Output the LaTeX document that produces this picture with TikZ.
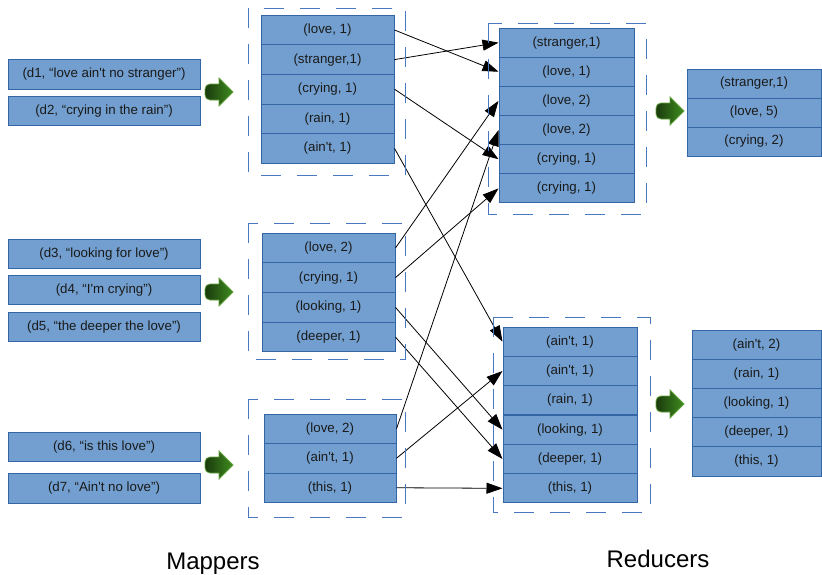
\documentclass[tikz,border=0pt]{standalone}
\usepackage{fontspec}
\setmainfont{Liberation Sans}[Ligatures=TeXOff]
\usetikzlibrary{arrows.meta}
\definecolor{boxfill}{HTML}{729FCF}
\definecolor{boxline}{HTML}{3465A4}
\definecolor{dashline}{HTML}{4A78C0}
\definecolor{gdark}{HTML}{1A3A0C}
\definecolor{glight}{HTML}{3E8C20}
\definecolor{gedge}{HTML}{62A23C}
\definecolor{txt}{HTML}{1A1A1A}
\tikzset{
  cell/.style={draw=boxline, fill=boxfill, line width=1pt, inner sep=0pt,
    text=txt, font=\fontsize{13.3}{15}\selectfont},
  incell/.style={cell, minimum width=192pt, minimum height=29.5pt},
  mcellA/.style={cell, minimum width=133pt, minimum height=29.6pt},
  mcellB/.style={cell, minimum width=133pt, minimum height=29.75pt},
  mcellC/.style={cell, minimum width=132pt, minimum height=29.5pt},
  rcellA/.style={cell, minimum width=135pt, minimum height=29.17pt},
  rcellB/.style={cell, minimum width=134pt, minimum height=29.33pt},
  ocellA/.style={cell, minimum width=134pt, minimum height=29pt},
  ocellB/.style={cell, minimum width=129pt, minimum height=29.2pt},
  groupbox/.style={draw=dashline, line width=0.9pt, dash pattern=on 20pt off 16pt},
  link/.style={draw=black, line width=0.8pt, -{Triangle[length=16pt,width=11pt]}},
  caption/.style={inner sep=0pt, text=black, text depth=0pt, font=\fontsize{24}{28}\selectfont, anchor=base},
  garrow/.pic={
    \shade[left color=gdark, right color=glight, draw=gedge, line width=0.8pt]
      (0,0) [rounded corners=5pt] -- (0,8) [sharp corners] -- (14,8) -- (14,14) -- (28,0)
      -- (14,-14) -- (14,-8) [rounded corners=5pt] -- (0,-8) [sharp corners] -- cycle;
  }
}
\begin{document}
\begin{tikzpicture}[x=1pt, y=-1pt]
\useasboundingbox (0,0) rectangle (822,574);

% inputs
\node[incell] (d1) at (104,74.5) {(d1, “love ain't no stranger”)};
\node[incell] (d2) at (104,111) {(d2, “crying in the rain”)};
\node[incell] (d3) at (104,254) {(d3, “looking for love”)};
\node[incell] (d4) at (104,290) {(d4, “I'm crying”)};
\node[incell] (d5) at (104,327) {(d5, “the deeper the love”)};
\node[incell] (d6) at (104,447) {(d6, “is this love”)};
\node[incell] (d7) at (104,488.5) {(d7, “Ain't no love”)};

% green arrows
\pic at (205,92) {garrow};
\pic at (205,292) {garrow};
\pic at (205,465) {garrow};
\pic at (656,111) {garrow};
\pic at (656,404) {garrow};

% mapper 1
\node[mcellA] (m1a) at (327.5,30) {(love, 1)};
\node[mcellA] (m1b) at (327.5,59.6) {(stranger,1)};
\node[mcellA] (m1c) at (327.5,89.2) {(crying, 1)};
\node[mcellA] (m1d) at (327.5,118.8) {(rain, 1)};
\node[mcellA] (m1e) at (327.5,148.4) {(ain't, 1)};
% mapper 2
\node[mcellB] (m2a) at (328.5,247.9) {(love, 2)};
\node[mcellB] (m2b) at (328.5,277.6) {(crying, 1)};
\node[mcellB] (m2c) at (328.5,307.4) {(looking, 1)};
\node[mcellB] (m2d) at (328.5,337.1) {(deeper, 1)};
% mapper 3
\node[mcellC] (m3a) at (330,428.75) {(love, 2)};
\node[mcellC] (m3b) at (330,458.25) {(ain't, 1)};
\node[mcellC] (m3c) at (330,487.75) {(this, 1)};

% reducer 1
\node[rcellA] (r1a) at (566.5,42.6) {(stranger,1)};
\node[rcellA] (r1b) at (566.5,71.75) {(love, 1)};
\node[rcellA] (r1c) at (566.5,100.9) {(love, 2)};
\node[rcellA] (r1d) at (566.5,130.1) {(love, 2)};
\node[rcellA] (r1e) at (566.5,159.25) {(crying, 1)};
\node[rcellA] (r1f) at (566.5,188.4) {(crying, 1)};
% reducer 2
\node[rcellB] (r2a) at (570,341.7) {(ain't, 1)};
\node[rcellB] (r2b) at (570,371) {(ain't, 1)};
\node[rcellB] (r2c) at (570,400.3) {(rain, 1)};
\node[rcellB] (r2d) at (570,429.7) {(looking, 1)};
\node[rcellB] (r2e) at (570,459) {(deeper, 1)};
\node[rcellB] (r2f) at (570,488.3) {(this, 1)};

% outputs
\node[ocellA] (o1a) at (754,83.5) {(stranger,1)};
\node[ocellA] (o1b) at (754,112.5) {(love, 5)};
\node[ocellA] (o1c) at (754,141.5) {(crying, 2)};
\node[ocellB] (o2a) at (756.5,344.6) {(ain't, 2)};
\node[ocellB] (o2b) at (756.5,373.8) {(rain, 1)};
\node[ocellB] (o2c) at (756.5,403) {(looking, 1)};
\node[ocellB] (o2d) at (756.5,432.2) {(deeper, 1)};
\node[ocellB] (o2e) at (756.5,461.4) {(this, 1)};

% shuffle connectors
\draw[link] (m1a.east) -- (r1b.west);
\draw[link] (m1b.east) -- (r1a.west);
\draw[link] (m1c.east) -- (r1e.west);
\draw[link] (m1e.east) -- (r2a.west);
\draw[link] (m2a.east) -- (r1c.west);
\draw[link] (m2b.east) -- (r1f.west);
\draw[link] (m2c.east) -- (r2d.west);
\draw[link] (m2d.east) -- (r2e.west);
\draw[link] (m3a.east) -- (r1d.west);
\draw[link] (m3b.east) -- (r2b.west);
\draw[link] (m3c.east) -- (r2f.west);

% dashed group frames
\draw[groupbox] (248,8) rectangle (405,175);
\draw[groupbox] (248,223) rectangle (405,359);
\draw[groupbox] (248,399) rectangle (405,517);
\draw[groupbox] (488,23) rectangle (646,214);
\draw[groupbox] (493,317) rectangle (650,512);

% captions
\node[caption] (mappers) at (213,569) {Mappers};
\node[caption] (reducers) at (658,567) {Reducers};
\end{tikzpicture}
\end{document}
